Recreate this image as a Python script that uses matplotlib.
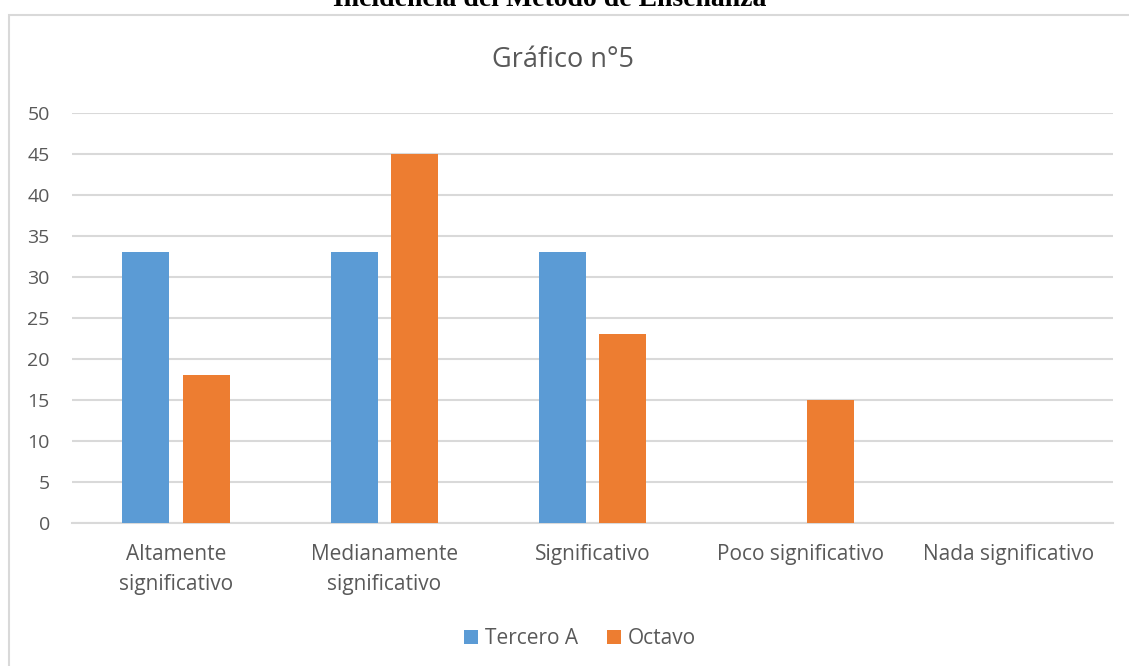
import matplotlib
matplotlib.use("Agg")
import matplotlib.pyplot as plt
import numpy as np
from matplotlib.patches import Rectangle

categories = ["Altamente\nsignificativo", "Medianamente\nsignificativo", "Significativo",
              "Poco significativo", "Nada significativo"]
tercero_a = [33, 33, 33, 0, 0]
octavo = [18, 45, 23, 15, 0]
yticks = [0, 5, 10, 15, 20, 25, 30, 35, 40, 45, 50]

FONT = ["Open Sans", "DejaVu Sans"]
GRAY = "#595959"
GRID = "#d9d9d9"
BLUE = "#5B9BD5"
ORANGE = "#ED7D31"

W, H = 1129, 666
fig = plt.figure(figsize=(W / 100, H / 100), dpi=100)

# chart frame
fig.patches.append(Rectangle((8.5 / W, -0.1), 1.2, 1 - 15.5 / H + 0.1, transform=fig.transFigure,
                             fill=False, edgecolor=GRID, linewidth=1.5, zorder=0))

# document heading (cut off at top in the reference)
fig.text(0.487, 1 - 6 / H, "Incidencia del Método de Enseñanza", ha="center", va="baseline",
         fontsize=20, fontweight="bold", family=["Liberation Serif", "DejaVu Serif"], color="black")

ax = fig.add_axes([72 / W, 1 - 523 / H, (1113 - 72) / W, (523 - 113) / H])
x = np.arange(len(categories))
bw = 0.226
off = 0.145
ax.bar(x - off, tercero_a, width=bw, color=BLUE, label="Tercero A", zorder=3)
ax.bar(x + off, octavo, width=bw, color=ORANGE, label="Octavo", zorder=3)

ax.set_xlim(-0.5, len(categories) - 0.5)
ax.set_ylim(0, 50)
ax.set_yticks(yticks)
ax.yaxis.grid(True, color=GRID, linewidth=1.5, zorder=0)
ax.set_axisbelow(True)
for s in ["top", "right", "left"]:
    ax.spines[s].set_visible(False)
ax.spines["bottom"].set_color(GRID)
ax.spines["bottom"].set_linewidth(1.5)
ax.tick_params(axis="both", length=0, labelcolor=GRAY)
ax.tick_params(axis="y", pad=16, labelsize=14)
ax.tick_params(axis="x", pad=15, labelsize=15)
ax.set_xticks(x)
ax.set_xticklabels(categories, family=FONT, linespacing=1.55)
for lbl in ax.get_yticklabels():
    lbl.set_family(FONT)

fig.text(563 / W, 1 - 60 / H, "Gráfico n°5", ha="center", va="center", fontsize=19.5,
         color=GRAY, family=FONT)

leg = fig.legend(loc="center", bbox_to_anchor=(580 / W, 1 - 639 / H), ncol=2, frameon=False,
                 prop={"family": FONT, "size": 15}, handlelength=0.65, handleheight=0.65,
                 handletextpad=0.35, columnspacing=1.4)
for t in leg.get_texts():
    t.set_color(GRAY)

fig.savefig("out.png", dpi=100)
